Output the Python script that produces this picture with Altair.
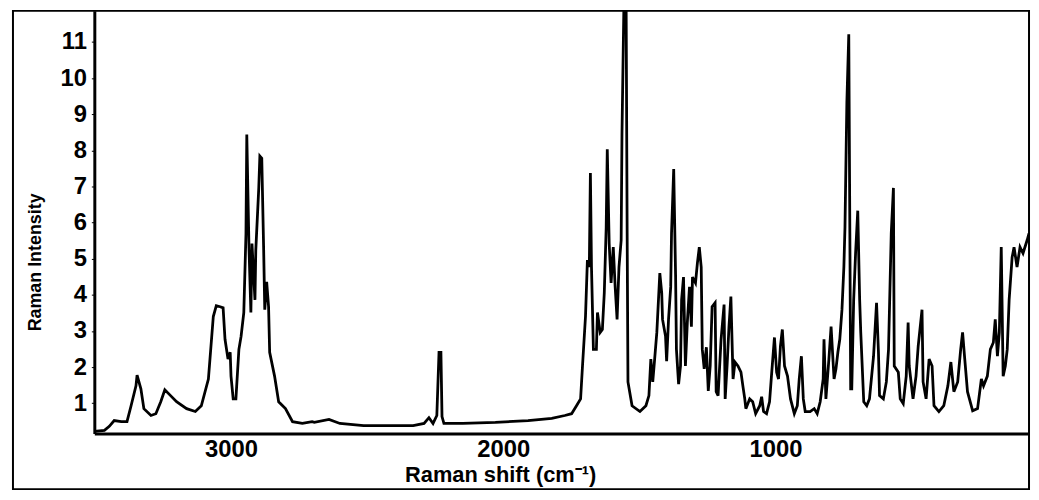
import altair as alt
import pandas as pd

# Raman shift (cm^-1) (descending)
shift = [3502, 3465, 3447, 3429, 3403, 3382, 3367, 3349, 3345, 3331, 3320, 3294, 3276, 3258, 3243,
         3222, 3200, 3163, 3131, 3109, 3083, 3065, 3054, 3040, 3029, 3022, 3011, 3003, 3000, 2992,
         2982, 2971, 2963, 2953, 2945, 2942, 2934, 2927, 2923, 2912, 2909, 2898, 2894, 2887, 2880,
         2876, 2869, 2862, 2858, 2840, 2825, 2800, 2774, 2738, 2702, 2694, 2640, 2600, 2513, 2393,
         2331, 2291, 2273, 2258, 2244, 2236, 2229, 2225, 2218, 2149, 2029, 1909, 1822, 1774, 1749,
         1731, 1716, 1709, 1698, 1691, 1684, 1680, 1676, 1669, 1658, 1654, 1644, 1636, 1629, 1622,
         1618, 1611, 1604, 1596, 1589, 1582, 1575, 1567, 1564, 1556, 1549, 1545, 1542, 1527, 1498,
         1476, 1465, 1458, 1451, 1444, 1436, 1425, 1418, 1415, 1404, 1400, 1393, 1385, 1382, 1374,
         1367, 1364, 1356, 1349, 1345, 1338, 1331, 1324, 1316, 1309, 1305, 1294, 1287, 1280, 1273,
         1269, 1262, 1254, 1247, 1240, 1233, 1222, 1218, 1211, 1200, 1189, 1185, 1178, 1171, 1164,
         1156, 1149, 1138, 1127, 1120, 1113, 1109, 1095, 1084, 1073, 1058, 1051, 1044, 1033, 1022,
         1015, 1004, 996, 989, 982, 975, 967, 956, 945, 931, 920, 913, 905, 898, 891,
         873, 858, 847, 836, 825, 822, 815, 804, 796, 785, 778, 771, 764, 756, 749,
         745, 738, 731, 727, 724, 720, 713, 706, 698, 691, 687, 676, 665, 655, 640,
         629, 622, 618, 604, 593, 585, 575, 567, 564, 549, 542, 531, 520, 513, 509,
         495, 484, 476, 462, 458, 447, 436, 425, 418, 400, 382, 367, 356, 345, 331,
         320, 313, 305, 295, 276, 258, 244, 236, 222, 211, 200, 193, 185, 178, 171,
         164, 156, 149, 142, 131, 124, 113, 102, 91, 76, 69]

intensity = [0.22, 0.25, 0.36, 0.52, 0.49, 0.49, 0.93, 1.48, 1.78, 1.40, 0.85, 0.66, 0.71, 1.04, 1.37,
             1.21, 1.04, 0.85, 0.77, 0.93, 1.67, 3.40, 3.70, 3.67, 3.64, 2.77, 2.22, 2.41, 1.75, 1.12,
             1.12, 2.49, 2.85, 3.51, 5.70, 8.44, 5.32, 3.51, 5.42, 3.86, 5.23, 6.96, 7.84, 7.78, 5.23,
             3.59, 4.36, 3.67, 2.41, 1.75, 1.04, 0.85, 0.49, 0.44, 0.49, 0.47, 0.55, 0.44, 0.38, 0.38,
             0.38, 0.44, 0.60, 0.44, 0.66, 2.41, 2.41, 0.63, 0.44, 0.44, 0.47, 0.52, 0.58, 0.66, 0.71,
             0.93, 1.12, 2.03, 3.40, 4.96, 4.77, 7.37, 4.77, 2.49, 2.49, 3.51, 2.96, 3.04, 4.05, 5.86,
             8.03, 5.42, 4.33, 5.32, 4.22, 3.32, 4.77, 5.51, 8.44, 12.5, 12.5, 5.70, 1.59, 0.93, 0.77,
             0.93, 1.21, 2.22, 1.59, 2.22, 2.96, 4.60, 4.05, 3.32, 2.85, 2.16, 3.32, 4.22, 5.70, 7.48,
             4.49, 2.49, 1.53, 2.03, 3.86, 4.49, 2.03, 3.23, 4.22, 3.12, 4.49, 4.33, 4.88, 5.32, 4.77,
             2.49, 1.95, 2.55, 1.34, 2.03, 3.67, 3.78, 1.32, 1.21, 2.77, 3.73, 1.12, 2.03, 3.12, 3.95,
             1.67, 2.14, 2.03, 1.86, 1.48, 1.12, 0.85, 1.12, 1.04, 0.71, 0.93, 1.18, 0.77, 0.71, 1.04,
             1.75, 2.82, 1.86, 1.67, 2.58, 3.04, 2.03, 1.75, 1.12, 0.71, 0.93, 1.67, 2.30, 1.12, 0.77,
             0.77, 0.85, 0.71, 1.04, 1.67, 2.77, 1.12, 2.22, 3.12, 1.67, 1.95, 2.41, 2.77, 3.59, 4.77,
             5.86, 9.34, 11.21, 5.70, 1.40, 1.40, 3.86, 5.15, 6.33, 3.86, 2.96, 1.04, 0.93, 1.12, 2.30,
             3.78, 2.41, 1.21, 1.12, 1.59, 2.49, 5.70, 6.96, 2.03, 1.86, 1.12, 0.99, 1.75, 3.23, 2.03,
             1.12, 1.75, 2.58, 3.59, 1.59, 1.12, 2.22, 2.03, 0.93, 0.77, 0.93, 1.48, 2.14, 1.32, 1.59,
             2.49, 2.96, 2.22, 1.32, 0.79, 0.85, 1.67, 1.48, 1.75, 2.49, 2.68, 3.32, 2.30, 2.96, 5.32,
             1.75, 2.03, 2.49, 3.86, 5.04, 5.32, 4.77, 5.32, 5.15, 5.51, 5.70]

x_ticks = [3000, 2000, 1000]
y_ticks = [1, 2, 3, 4, 5, 6, 7, 8, 9, 10, 11]

df = pd.DataFrame({"shift": shift, "intensity": intensity})

FONT = "Liberation Sans"
W, H = 942, 426

line = alt.Chart(df).mark_line(color="black", strokeWidth=2.8, clip=True).encode(
    x=alt.X("shift:Q",
            scale=alt.Scale(domain=[69, 3502], reverse=True, nice=False, zero=False),
            axis=alt.Axis(values=x_ticks, format="d", title="Raman shift (cm⁻¹)", ticks=False,
                          labelPadding=4, grid=False, domainWidth=3, domainColor="black",
                          labelFont=FONT, labelFontWeight="bold", labelFontSize=24,
                          titleFont=FONT, titleFontWeight="bold", titleFontSize=22,
                          titleX=409, titleY=48, titleBaseline="alphabetic")),
    y=alt.Y("intensity:Q",
            scale=alt.Scale(domain=[0.16, 11.86], nice=False, zero=False),
            axis=alt.Axis(values=y_ticks, title="Raman Intensity", tickSize=3, tickWidth=1,
                          tickColor="black", labelPadding=5, grid=False, domainWidth=3,
                          domainColor="black",
                          labelFont=FONT, labelFontWeight="bold", labelFontSize=24,
                          titleFont=FONT, titleFontWeight="bold", titleFontSize=18,
                          titleX=-50, titleY=253)),
)

frame = alt.Chart(pd.DataFrame({"f": [0]})).mark_rect(
    fill=None, stroke="black", strokeWidth=2, clip=False
).encode(
    x=alt.value(-82), x2=alt.value(W), y=alt.value(0), y2=alt.value(H + 56)
)

chart = alt.layer(frame, line).properties(
    width=W, height=H,
    autosize=alt.AutoSizeParams(type="none"),
    padding={"left": 87, "top": 1, "right": 2, "bottom": 57},
).configure_view(stroke=None).configure_axis(
    labelColor="black", titleColor="black",
).configure(background="white")

chart.save("out.html", embed_options={"renderer": "svg", "actions": False})
